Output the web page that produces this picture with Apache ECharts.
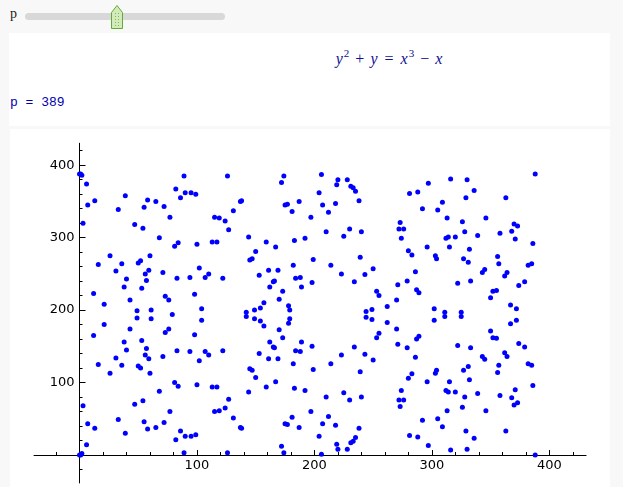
<!DOCTYPE html>
<html><head><meta charset="utf-8">
<script src="https://cdn.jsdelivr.net/npm/echarts@6/dist/echarts.min.js"></script>
<style>
html,body{margin:0;padding:0;}
body{width:623px;height:487px;overflow:hidden;position:relative;background:#f8f8f8;}
.abs{position:absolute;}
#eq{left:0;top:51px;width:778px;text-align:center;font:16px 'Liberation Serif',serif;line-height:16px;color:#101090;white-space:nowrap;}
#eq i{font-style:italic;}
#eq sup{font-size:11px;vertical-align:0;position:relative;top:-7px;margin-left:1px;}
#eq .op{margin:0 6px;}
#eq .rel{margin:0 7px;}
</style></head><body>
<div class="abs" style="left:10px;top:7px;font:14px 'Liberation Serif',serif;line-height:14px;color:#222">p</div>
<div class="abs" style="left:25px;top:13px;width:200px;height:7px;border-radius:4px;background:#d8d8d8"></div>
<svg class="abs" style="left:110px;top:4px" width="14" height="26" viewBox="0 0 14 26">
 <polygon points="1.5,8.5 7,1.5 12.5,8.5 12.5,24.5 1.5,24.5" fill="#d2ebb8" stroke="#64a83a" stroke-width="1"/>
 <line x1="5.5" y1="9" x2="5.5" y2="23" stroke="#7cb95a" stroke-dasharray="1,2"/>
 <line x1="8.5" y1="9" x2="8.5" y2="23" stroke="#7cb95a" stroke-dasharray="1,2"/>
</svg>
<div class="abs" style="left:9px;top:33px;width:601px;height:93px;background:#fff"></div>
<div class="abs" id="eq"><i>y</i><sup>2</sup><span class="op">+</span><i>y</i><span class="rel">=</span><i>x</i><sup>3</sup><span class="op">−</span><i>x</i></div>
<div class="abs" style="left:10px;top:96px;font:13px 'Liberation Mono',monospace;line-height:13px;color:#0000b0;white-space:pre">p = 389</div>
<div class="abs" style="left:10px;top:129px;width:600px;height:358px;background:#fff"></div>
<div id="chart" class="abs" style="left:0;top:0;width:623px;height:487px"></div>
<script>
// Points of y^2 + y = x^3 - x over F_389 (x, lower y, upper y)
var xs = [0,1,2,3,6,7,12,13,16,
21,26,31,33,36,38,39,40,43,
47,49,50,52,53,54,55,56,57,
58,59,60,61,65,68,71,72,73,
76,77,79,81,82,83,84,86,89,
90,94,95,98,99,100,102,104,107,
110,113,115,117,119,122,124,126,127,
131,137,138,142,144,145,147,149,150,
153,154,157,159,161,162,165,166,167,
169,170,172,173,174,175,177,178,179,
181,182,183,184,187,188,189,192,197,
198,199,204,206,207,210,212,214,218,
219,220,223,225,228,230,231,233,234,
235,238,239,240,243,244,249,250,253,
255,262,270,271,272,273,274,276,279,
280,281,283,286,287,288,289,292,296,
297,302,303,304,305,309,311,312,313,
314,315,316,320,322,325,326,327,328,
329,330,331,332,333,336,339,343,345,
346,350,352,355,356,357,358,362,363,
364,367,368,370,371,372,373,374,379,
382,385,386,388];
var yLow = [0,0,2,68,14,43,165,37,125,
180,113,134,49,124,156,30,145,174,
70,189,123,120,158,75,46,138,147,
36,133,113,188,38,88,136,45,169,
174,60,194,100,21,144,95,33,3,
26,143,26,166,28,97,130,186,143,
138,94,60,94,61,144,65,3,77,
51,38,37,191,87,119,117,188,107,
140,185,178,94,133,156,149,148,101,
133,173,12,162,3,43,42,182,188,
52,126,92,144,38,143,156,89,60,
150,118,26,1,43,80,53,126,41,
15,8,138,86,8,76,17,19,149,
24,37,115,80,139,190,187,131,162,
168,183,174,153,76,67,89,76,148,
106,27,112,135,160,25,164,48,101,
13,186,113,117,50,39,191,89,61,
87,101,7,87,151,191,66,117,80,
33,8,122,104,148,23,85,136,132,
61,171,162,161,114,124,82,141,33,
136,181,79,69,90,186,72,154,149,
126,124,96,0];
var yHigh = [388,388,386,320,374,345,223,351,263,
208,275,254,339,264,232,358,243,214,
318,199,265,268,230,313,342,250,241,
352,255,275,200,350,300,252,343,219,
214,328,null,288,367,244,293,355,385,
362,245,362,222,360,291,258,202,245,
250,294,328,294,327,244,323,385,311,
337,350,351,197,301,269,271,200,281,
248,203,210,294,255,232,239,240,287,
255,215,376,226,385,345,346,206,200,
336,262,296,244,350,245,232,299,328,
238,270,362,387,345,308,335,262,347,
373,380,250,302,380,312,371,369,239,
364,351,273,308,249,198,201,257,226,
220,205,214,235,312,321,299,312,240,
282,361,276,253,228,363,224,340,287,
375,202,275,271,338,349,197,299,327,
301,287,381,301,237,197,322,271,308,
355,380,266,284,240,365,303,252,256,
327,217,226,227,274,264,306,247,355,
252,207,309,319,298,202,316,234,239,
262,264,292,388];
var xTickLabels = [100, 200, 300, 400];
var yTickLabels = [100, 200, 300, 400];

var pts = [];
for (var i = 0; i < xs.length; i++) {
  pts.push([xs[i], yLow[i]]);
  if (yHigh[i] !== null) pts.push([xs[i], yHigh[i]]);
}

// layout: pixel of origin and px per unit
var X0 = 79.5, XS = 1.1745, Y0 = 455, YS = 0.7245;
function g(xmin, xmax, ymin, ymax) {
  return { left: X0 + xmin * XS, top: Y0 - ymax * YS,
           width: (xmax - xmin) * XS, height: (ymax - ymin) * YS };
}
var R = { xmin: -38.7, xmax: 431.3, ymin: -38.6, ymax: 430.3 };
var lbl = { fontFamily: 'DejaVu Sans', fontSize: 13, color: '#000' };
var hidLine = { show: true, onZero: true, lineStyle: { opacity: 0 } };

var chart = echarts.init(document.getElementById('chart'));
chart.setOption({
  animation: false,
  grid: [g(R.xmin, R.xmax, R.ymin, R.ymax), g(-20, 420, -20, 420), g(0, 400, 0, 400)],
  xAxis: [
    { gridIndex: 0, type: 'value', min: R.xmin, max: R.xmax,
      axisLine: { show: true, onZero: true, lineStyle: { color: '#000', width: 1 } },
      axisTick: { show: false }, axisLabel: { show: false }, splitLine: { show: false } },
    { gridIndex: 1, type: 'value', min: -20, max: 420, interval: 20,
      axisLine: hidLine, axisTick: { inside: true, length: 3, lineStyle: { color: '#000' } },
      axisLabel: { show: false }, splitLine: { show: false } },
    { gridIndex: 2, type: 'value', min: 0, max: 400, interval: 100,
      axisLine: hidLine, axisTick: { inside: true, length: 5, lineStyle: { color: '#000' } },
      axisLabel: Object.assign({ margin: 4, formatter: function (v) { return xTickLabels.indexOf(v) >= 0 ? String(v) : ''; } }, lbl),
      splitLine: { show: false } }
  ],
  yAxis: [
    { gridIndex: 0, type: 'value', min: R.ymin, max: R.ymax,
      axisLine: { show: true, onZero: true, lineStyle: { color: '#000', width: 1 } },
      axisTick: { show: false }, axisLabel: { show: false }, splitLine: { show: false } },
    { gridIndex: 1, type: 'value', min: -20, max: 420, interval: 20,
      axisLine: hidLine, axisTick: { inside: true, length: 3, lineStyle: { color: '#000' } },
      axisLabel: { show: false }, splitLine: { show: false } },
    { gridIndex: 2, type: 'value', min: 0, max: 400, interval: 100,
      axisLine: hidLine, axisTick: { inside: true, length: 6, lineStyle: { color: '#000' } },
      axisLabel: Object.assign({ margin: 5, formatter: function (v) { return yTickLabels.indexOf(v) >= 0 ? String(v) : ''; } }, lbl),
      splitLine: { show: false } }
  ],
  series: [{
    type: 'scatter', xAxisIndex: 0, yAxisIndex: 0, data: pts,
    symbolSize: 5, itemStyle: { color: '#0000ff', opacity: 1 }, silent: true
  }]
});
</script>
</body></html>
